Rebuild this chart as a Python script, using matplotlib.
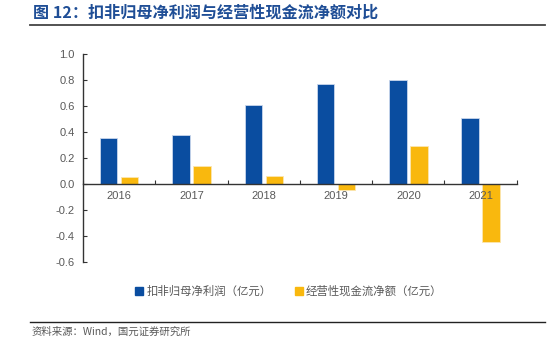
import matplotlib
matplotlib.use("Agg")
import matplotlib.pyplot as plt
import numpy as np
from matplotlib.lines import Line2D
from matplotlib.patches import Patch

plt.rcParams['font.family'] = ['Liberation Sans', 'Noto Sans CJK SC', 'DejaVu Sans']

years = ['2016', '2017', '2018', '2019', '2020', '2021']
net_profit = [0.35, 0.38, 0.61, 0.77, 0.80, 0.51]
op_cashflow = [0.05, 0.14, 0.06, -0.05, 0.29, -0.45]
series_names = ['扣非归母净利润（亿元）', '经营性现金流净额（亿元）']
title = '图 12：扣非归母净利润与经营性现金流净额对比'
source = '资料来源：Wind，国元证券研究所'

blue = '#0A4DA0'
orange = '#F9B80E'
gray = '#595959'

fig = plt.figure(figsize=(5.59, 3.47), dpi=100)
ax = fig.add_axes([0.1485, 0.245, 0.776, 0.5994])

x = np.arange(len(years))
w = 0.24
ax.bar(x - 0.145, net_profit, w, color=blue, edgecolor='#C9D7EC', linewidth=0.6)
ax.bar(x + 0.145, op_cashflow, w, color=orange, edgecolor='#FCE6B0', linewidth=0.6)

ax.set_ylim(-0.6, 1.0)
ax.set_xlim(-0.5, len(years) - 0.5)
ax.set_yticks(np.arange(-0.6, 1.01, 0.2))
ax.set_yticklabels([f'{v:.1f}' for v in np.arange(-0.6, 1.01, 0.2)])

for s in ['top', 'right']:
    ax.spines[s].set_visible(False)
ax.spines['bottom'].set_position(('data', 0))
ax.spines['bottom'].set_color('#333333')
ax.spines['left'].set_color('#333333')
ax.spines['bottom'].set_linewidth(1.0)
ax.spines['left'].set_linewidth(1.0)

ax.set_xticks(np.arange(-0.5, len(years) + 0.5, 1), minor=False)
ax.set_xticklabels([])
ax.set_xticks(x, minor=True)
ax.set_xticklabels(years, minor=True)
ax.tick_params(axis='x', which='major', direction='in', length=3, color='#333333')
ax.tick_params(axis='x', which='minor', length=0, labelsize=8, labelcolor=gray, pad=5)
ax.tick_params(axis='y', direction='in', length=3, color='#333333', labelsize=8, labelcolor=gray, pad=6)

handles = [Patch(facecolor=blue, edgecolor=blue), Patch(facecolor=orange, edgecolor=orange)]
fig.legend(handles, series_names, loc='center', bbox_to_anchor=(0.517, 0.16), ncol=2,
           frameon=False, handlelength=0.7, handleheight=0.7, handletextpad=0.3,
           columnspacing=2.0, labelcolor=gray,
           prop={'family': ['Noto Sans CJK SC'], 'size': 8.2})

fig.text(0.059, 0.965, title, fontsize=11.6, fontweight='bold', color='#1F4E96',
         family=['Noto Sans CJK SC'], va='center', ha='left')
fig.add_artist(Line2D([0.054, 0.975], [0.929, 0.929], color='#444444', linewidth=1.3))
fig.add_artist(Line2D([0.054, 0.975], [0.072, 0.072], color='#222222', linewidth=1.0))
fig.text(0.056, 0.043, source, fontsize=7.5, color=gray, family=['Noto Sans CJK SC'],
         va='center', ha='left')

fig.savefig('out.png', dpi=100)
